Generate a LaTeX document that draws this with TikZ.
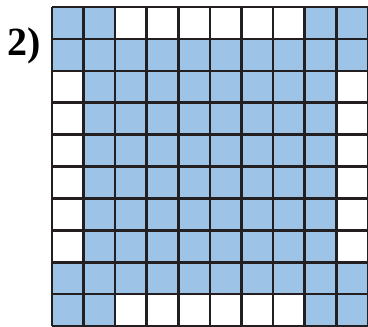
\documentclass[tikz,border=0pt]{standalone}
\usepackage{fontspec}
\setmainfont{Liberation Serif}
\definecolor{cellblue}{RGB}{157,195,230}
\definecolor{gridline}{RGB}{35,31,32}
\begin{document}
\begin{tikzpicture}[x=1pt,y=-1pt,
  cellstyle/.style={fill=cellblue},
  gridstyle/.style={draw=gridline,line width=2.6pt},
  labelstyle/.style={font=\bfseries\fontsize{40}{40}\selectfont,inner sep=0pt}]
\useasboundingbox (0,0) rectangle (368,327);
\def\cw{31.6}
\def\ch{31.9}
% blue cells
\foreach \r/\c in {1/1,1/2,1/9,1/10,10/1,10/2,10/9,10/10}{
  \fill[cellstyle] ({52+(\c-1)*\cw},{7+(\r-1)*\ch}) rectangle ++(\cw,\ch);
}
\foreach \r in {2,9}{
  \fill[cellstyle] (52,{7+(\r-1)*\ch}) rectangle ++({10*\cw},\ch);
}
\foreach \r in {3,...,8}{
  \fill[cellstyle] ({52+\cw},{7+(\r-1)*\ch}) rectangle ++({8*\cw},\ch);
}
% grid lines
\foreach \i in {0,...,10}{
  \draw[gridstyle] ({52+\i*\cw},7) -- ({52+\i*\cw},{7+10*\ch});
  \draw[gridstyle] (52,{7+\i*\ch}) -- ({52+10*\cw},{7+\i*\ch});
}
\node[labelstyle,anchor=base west] (lbl) at (7,55) {2)};
\end{tikzpicture}
\end{document}
